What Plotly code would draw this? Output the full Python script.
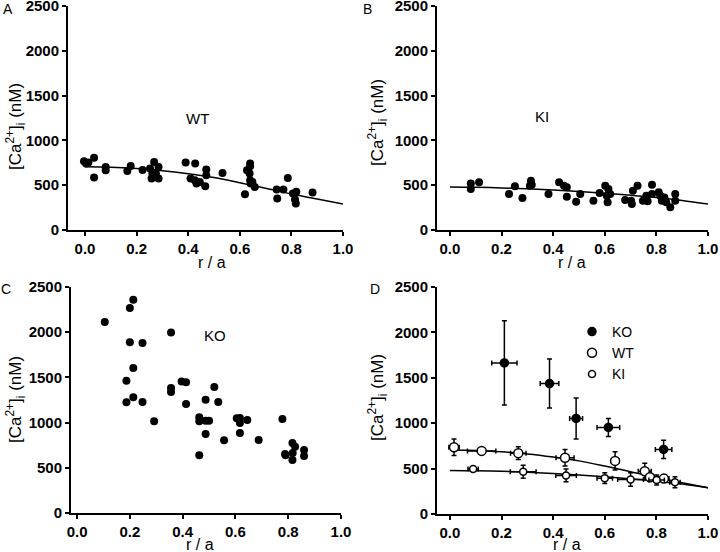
import plotly.graph_objects as go

# ---- dados ----
# A: WT, pontos individuais
wt_r = [-0.004, 0.004, 0.013, 0.035, 0.035, 0.080, 0.080, 0.164, 0.177, 0.223, 0.252, 0.268, 0.261,
        0.258, 0.275, 0.285, 0.285, 0.390, 0.427, 0.409, 0.426, 0.432, 0.445, 0.470, 0.470, 0.466,
        0.533, 0.620, 0.628, 0.640, 0.640, 0.638, 0.640, 0.642, 0.649, 0.658, 0.743, 0.745, 0.769,
        0.786, 0.806, 0.814, 0.817, 0.819, 0.882]
wt_ca = [767, 741, 752, 807, 585, 704, 667, 659, 715, 670, 685, 759, 630,
         574, 630, 704, 574, 752, 741, 574, 556, 519, 537, 674, 611, 489,
         637, 400, 667, 741, 711, 630, 556, 519, 537, 481, 452, 352, 452,
         581, 407, 341, 296, 426, 419]

# B: KI, pontos individuais
ki_r = [0.081, 0.081, 0.113, 0.229, 0.252, 0.281, 0.310, 0.314, 0.317, 0.382, 0.423, 0.442, 0.453,
        0.453, 0.489, 0.505, 0.556, 0.580, 0.602, 0.614, 0.608, 0.611, 0.621, 0.679, 0.702, 0.705,
        0.709, 0.727, 0.748, 0.761, 0.766, 0.783, 0.783, 0.809, 0.815, 0.821, 0.831, 0.838, 0.854,
        0.873, 0.873]
ki_ca = [520, 457, 532, 401, 487, 357, 494, 550, 506, 401, 532, 494, 476,
         372, 316, 401, 327, 413, 494, 457, 383, 309, 401, 335, 327, 290,
         439, 494, 327, 383, 320, 506, 401, 420, 383, 327, 364, 309, 253,
         401, 327]

# C: KO, pontos individuais
ko_r = [0.105, 0.200, 0.213, 0.200, 0.248, 0.213, 0.187, 0.187, 0.213, 0.248, 0.292, 0.356, 0.356,
        0.356, 0.396, 0.413, 0.413, 0.463, 0.463, 0.463, 0.487, 0.487, 0.487, 0.500, 0.520, 0.535,
        0.557, 0.605, 0.617, 0.617, 0.645, 0.617, 0.688, 0.778, 0.816, 0.826, 0.788, 0.817, 0.860,
        0.860, 0.816, 0.790]
ko_ca = [2113, 2268, 2360, 1888, 1881, 1604, 1464, 1224, 1280, 1228, 1014, 1998, 1383,
         1338, 1456, 1445, 1206, 1058, 1014, 638, 1254, 874, 1021, 1021, 1394, 1228,
         804, 1047, 1051, 996, 1029, 885, 807, 1040, 774, 733, 652, 664, 697,
         630, 586, 640]

# curvas ajustadas (lidas a cada 0.1)
curva_r = [0.0, 0.1, 0.2, 0.3, 0.4, 0.5, 0.6, 0.7, 0.8, 0.9, 1.0]
curva_wt = [705, 700, 685, 662, 628, 585, 528, 466, 402, 345, 290]
curva_ki = [480, 477, 470, 460, 446, 430, 410, 388, 362, 330, 290]

# D: médias +- erro
ko_m_r = [0.211, 0.386, 0.489, 0.614, 0.828]
ko_m_ca = [1664, 1437, 1052, 953, 711]
ko_m_ey = [463, 270, 225, 100, 100]
ko_m_ex = [0.049, 0.036, 0.025, 0.044, 0.032]

wt_m_r = [0.016, 0.123, 0.265, 0.446, 0.640, 0.755, 0.775, 0.829]
wt_m_ca = [735, 695, 670, 620, 585, 470, 405, 390]
wt_m_ey = [92, 12, 70, 90, 100, 90, 40, 40]
wt_m_ex = [0.02, 0.055, 0.03, 0.035, 0.015, 0.025, 0.015, 0.02]

ki_m_r = [0.090, 0.284, 0.450, 0.600, 0.700, 0.801, 0.872]
ki_m_ca = [495, 465, 425, 395, 380, 375, 350]
ki_m_ey = [12, 72, 70, 60, 75, 55, 60]
ki_m_ex = [0.02, 0.05, 0.04, 0.03, 0.05, 0.03, 0.02]

FONTE = "Liberation Sans, Arial, sans-serif"
W, H = 720, 552

fig = go.Figure()

def pontos(x, y, eixo):
    fig.add_trace(go.Scatter(x=x, y=y, mode="markers", xaxis="x" + eixo, yaxis="y" + eixo,
                             marker=dict(color="black", size=8), showlegend=False, cliponaxis=False))

def curva(y, eixo):
    fig.add_trace(go.Scatter(x=curva_r, y=y, mode="lines", xaxis="x" + eixo, yaxis="y" + eixo,
                             line=dict(color="black", width=1.5, shape="spline"), showlegend=False))

pontos(wt_r, wt_ca, "")
curva(curva_wt, "")
pontos(ki_r, ki_ca, "2")
curva(curva_ki, "2")
pontos(ko_r, ko_ca, "3")

curva(curva_wt, "4")
curva(curva_ki, "4")

def medias(x, y, ex, ey, nome, preench, tam):
    fig.add_trace(go.Scatter(
        x=x, y=y, mode="markers", name=nome, xaxis="x4", yaxis="y4",
        marker=dict(color=preench, size=tam, line=dict(color="black", width=1.5)),
        error_x=dict(type="data", array=ex, color="black", thickness=1.5, width=2.5),
        error_y=dict(type="data", array=ey, color="black", thickness=1.5, width=2.5),
        cliponaxis=False))

medias(ko_m_r, ko_m_ca, ko_m_ex, ko_m_ey, "KO", "black", 8)
medias(wt_m_r, wt_m_ca, wt_m_ex, wt_m_ey, "WT", "white", 9)
medias(ki_m_r, ki_m_ca, ki_m_ex, ki_m_ey, "KI", "white", 7)

# posições em pixels -> papel
def px(v):
    return v / W

def py(v):
    return 1 - v / H

paineis = {
    "": dict(x=(68, 343), y=(230, 6), xmin=-0.066),
    "2": dict(x=(437, 708), y=(230, 6), xmin=-0.05),
    "3": dict(x=(71, 341), y=(513, 287), xmin=-0.023),
    "4": dict(x=(437, 708), y=(514, 287), xmin=-0.05),
}

eixo_comum = dict(showline=True, linecolor="black", linewidth=2, ticks="outside", ticklen=4,
                  tickwidth=1.5, tickcolor="black", showgrid=False, zeroline=False,
                  automargin=False, ticklabeloverflow="allow",
                  tickfont=dict(family=FONTE, size=15, color="black", weight="bold"))

layout = dict(width=W, height=H, margin=dict(l=0, r=0, t=0, b=0, autoexpand=False),
              template="none", plot_bgcolor="white", paper_bgcolor="white",
              font=dict(family=FONTE, color="black"))

for k, p in paineis.items():
    layout["xaxis" + k] = dict(eixo_comum, domain=[px(p["x"][0]), px(p["x"][1])],
                               range=[p["xmin"], 1.0], tickvals=[0, 0.2, 0.4, 0.6, 0.8, 1.0],
                               tickformat=".1f", anchor="y" + k)
    layout["yaxis" + k] = dict(eixo_comum, domain=[py(p["y"][0]), py(p["y"][1])],
                               range=[0, 2500], tickvals=[0, 500, 1000, 1500, 2000, 2500],
                               anchor="x" + k)

layout["legend"] = dict(x=px(572), y=py(316), xanchor="left", yanchor="top",
                        bgcolor="rgba(0,0,0,0)", font=dict(family=FONTE, size=14, color="black"),
                        tracegroupgap=0, itemwidth=30)

fig.update_layout(**layout)

titulo_y = "[Ca<sup>2+</sup>]<sub>i</sub> (nM)"
notas = [
    ("A", 8, 9, 14, 0), ("B", 367, 9, 14, 0), ("C", 6, 289, 14, 0), ("D", 375, 289, 14, 0),
    ("WT", 197, 118, 15, 0), ("KI", 542, 117, 15, 0), ("KO", 215, 335, 15, 0),
    ("r / a", 212, 262, 16, 0), ("r / a", 572, 262, 16, 0),
    ("r / a", 200, 544, 16, 0), ("r / a", 567, 544, 16, 0),
    (titulo_y, 15, 127, 17, -90), (titulo_y, 377, 123, 17, -90),
    (titulo_y, 15, 400, 17, -90), (titulo_y, 377, 398, 17, -90),
]
for txt, x, y, tam, ang in notas:
    fig.add_annotation(text=txt, x=px(x), y=py(y), xref="paper", yref="paper",
                       showarrow=False, textangle=ang, xanchor="center", yanchor="middle",
                       font=dict(family=FONTE, size=tam, color="black"))

# a página tem margem de 8px no body por padrão; tira para o gráfico ocupar a janela toda
fig.write_html("out.html", config={"displayModeBar": False},
               post_script="document.body.style.margin='0';document.body.style.overflow='hidden';")
